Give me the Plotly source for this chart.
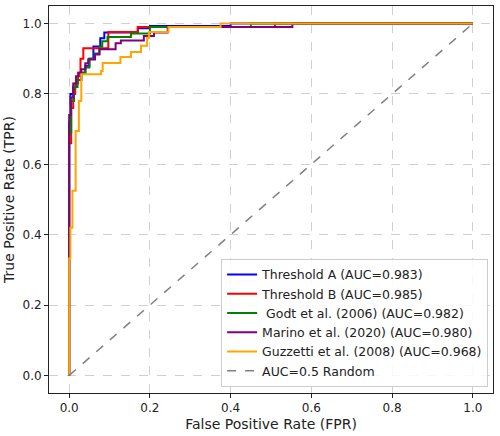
import plotly.graph_objects as go

# ROC curves (fpr, tpr) step points
blue_fpr = [0, 0, 0.003, 0.003, 0.01, 0.01, 0.02, 0.02, 0.03, 0.03, 0.04, 0.04, 0.05, 0.05, 0.06, 0.06, 0.077, 0.077, 0.087, 0.087, 0.17, 0.17, 0.2, 0.2, 0.4, 0.4, 1.0]
blue_tpr = [0, 0.72, 0.72, 0.80, 0.80, 0.82, 0.82, 0.84, 0.84, 0.86, 0.86, 0.88, 0.88, 0.90, 0.90, 0.935, 0.935, 0.958, 0.958, 0.975, 0.975, 0.987, 0.987, 0.993, 0.993, 1.0, 1.0]

red_fpr = [0, 0, 0.005, 0.005, 0.01, 0.01, 0.015, 0.015, 0.022, 0.022, 0.028, 0.028, 0.035, 0.035, 0.097, 0.097, 0.17, 0.17, 0.51, 0.51, 1.0]
red_tpr = [0, 0.66, 0.66, 0.76, 0.76, 0.80, 0.80, 0.83, 0.83, 0.86, 0.86, 0.90, 0.90, 0.93, 0.93, 0.976, 0.976, 0.99, 0.99, 1.0, 1.0]

green_fpr = [0, 0, 0.005, 0.005, 0.012, 0.012, 0.02, 0.02, 0.03, 0.03, 0.04, 0.04, 0.05, 0.05, 0.063, 0.063, 0.075, 0.075, 0.082, 0.082, 0.095, 0.095, 0.153, 0.153, 0.2, 0.2, 0.45, 0.45, 1.0]
green_tpr = [0, 0.69, 0.69, 0.78, 0.78, 0.82, 0.82, 0.84, 0.84, 0.86, 0.86, 0.875, 0.875, 0.90, 0.90, 0.915, 0.915, 0.935, 0.935, 0.95, 0.95, 0.962, 0.962, 0.972, 0.972, 0.99, 0.99, 1.0, 1.0]

purple_fpr = [0, 0, 0.004, 0.004, 0.01, 0.01, 0.017, 0.017, 0.024, 0.024, 0.03, 0.03, 0.04, 0.04, 0.047, 0.047, 0.064, 0.064, 0.075, 0.075, 0.115, 0.115, 0.128, 0.128, 0.185, 0.185, 0.21, 0.21, 0.244, 0.244, 0.553, 0.553, 1.0]
purple_tpr = [0, 0.74, 0.74, 0.79, 0.79, 0.83, 0.83, 0.85, 0.85, 0.86, 0.86, 0.87, 0.87, 0.887, 0.887, 0.898, 0.898, 0.912, 0.912, 0.927, 0.927, 0.944, 0.944, 0.952, 0.952, 0.965, 0.965, 0.975, 0.975, 0.99, 0.99, 1.0, 1.0]

orange_fpr = [0, 0, 0.003, 0.003, 0.008, 0.008, 0.016, 0.016, 0.024, 0.024, 0.03, 0.03, 0.079, 0.079, 0.083, 0.083, 0.127, 0.127, 0.153, 0.153, 0.178, 0.178, 0.193, 0.193, 0.198, 0.198, 0.246, 0.246, 0.375, 0.375, 1.0]
orange_tpr = [0, 0.333, 0.333, 0.42, 0.42, 0.525, 0.525, 0.695, 0.695, 0.78, 0.78, 0.856, 0.856, 0.865, 0.865, 0.888, 0.888, 0.905, 0.905, 0.919, 0.919, 0.937, 0.937, 0.96, 0.96, 0.976, 0.976, 0.99, 0.99, 1.0, 1.0]

random_x = [0, 1]
random_y = [0, 1]

names = ["Threshold A (AUC=0.983)", "Threshold B (AUC=0.985)", " Godt et al. (2006) (AUC=0.982)",
         "Marino et al. (2020) (AUC=0.980)", "Guzzetti et al. (2008) (AUC=0.968)"]
colors = ["blue", "red", "green", "purple", "orange"]
xs = [blue_fpr, red_fpr, green_fpr, purple_fpr, orange_fpr]
ys = [blue_tpr, red_tpr, green_tpr, purple_tpr, orange_tpr]

fig = go.Figure()
for x, y, n, c in zip(xs, ys, names, colors):
    fig.add_trace(go.Scatter(x=x, y=y, mode="lines", name=n, line=dict(color=c, width=2)))
fig.add_trace(go.Scatter(x=random_x, y=random_y, mode="lines", name="AUC=0.5 Random",
                         line=dict(color="gray", width=1.5, dash="dash")))

axis_common = dict(range=[-0.05, 1.05], tickvals=[0, 0.2, 0.4, 0.6, 0.8, 1.0], tickformat=".1f",
                   showline=True, linecolor="#222", linewidth=1, mirror=True,
                   ticks="outside", ticklen=4, tickcolor="#222",
                   showgrid=True, gridcolor="#d0d0d0", griddash="dash", gridwidth=1,
                   zeroline=False, tickfont=dict(size=12, color="#222"),
                   title_font=dict(size=14, color="#222"))

fig.update_layout(
    width=500, height=436,
    margin=dict(l=49, r=7, t=6, b=43),
    plot_bgcolor="white", paper_bgcolor="white",
    font=dict(family="DejaVu Sans", color="#222"),
    xaxis=dict(title=dict(text="False Positive Rate (FPR)", standoff=4), **axis_common),
    yaxis=dict(title=dict(text="True Positive Rate (TPR)", standoff=4), **axis_common),
    legend=dict(x=0.989, y=0.016, xanchor="right", yanchor="bottom",
                bgcolor="rgba(255,255,255,0.85)", bordercolor="#cccccc", borderwidth=1,
                font=dict(size=12.5, color="#222"), tracegroupgap=0, itemwidth=30),
    showlegend=True,
)

fig.write_html("out.html")
